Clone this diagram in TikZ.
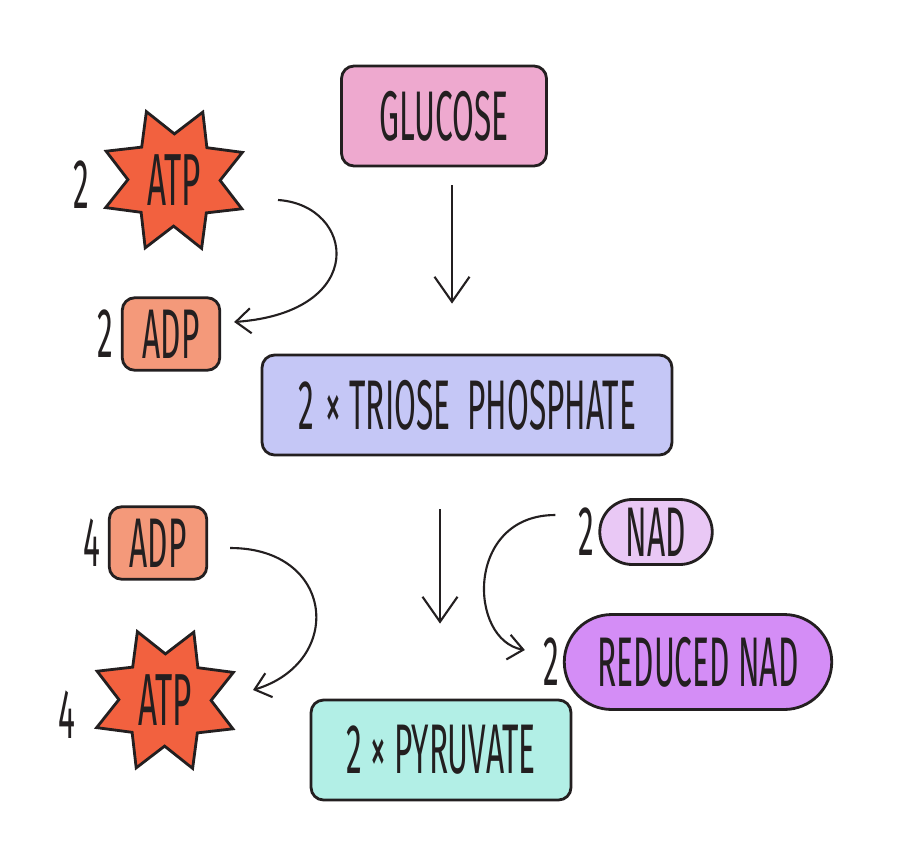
\documentclass[tikz,border=0pt]{standalone}
\usepackage{fontspec}
\setmainfont{Fira Sans}[FakeStretch=0.45]
\usetikzlibrary{arrows.meta, positioning, calc, shapes.geometric}
\definecolor{ink}{HTML}{231F20}
\definecolor{glucosefill}{HTML}{EEA9CF}
\definecolor{triosefill}{HTML}{C5C7F6}
\definecolor{pyruvatefill}{HTML}{B2EFE6}
\definecolor{atpfill}{HTML}{F2613F}
\definecolor{adpfill}{HTML}{F4997A}
\definecolor{nadfill}{HTML}{E9C8F5}
\definecolor{rnadfill}{HTML}{D48DF6}

\begin{document}
\begin{tikzpicture}[
    x=0.02cm, y=-0.02cm,
    every node/.style={text=ink, font=\fontsize{40}{44}\selectfont},
    molbox/.style={
      rectangle, rounded corners=0.25cm, draw=ink, line width=1.6pt,
      inner sep=0pt
    },
    sugar/.style={molbox, minimum height=2.0cm},
    adpbox/.style={molbox, fill=adpfill, minimum width=1.95cm, minimum height=1.45cm},
    atpstar/.style={
      star, star points=8, star point ratio=1.6, draw=ink, line width=1.6pt,
      fill=atpfill, minimum size=2.95cm, inner sep=0pt, shape border rotate=22
    },
    nadpill/.style={
      rectangle, draw=ink, line width=1.6pt, inner sep=0pt
    },
    num/.style={inner sep=1pt},
    mainarrow/.style={
      -{Straight Barb[length=5mm, width=7mm]}, line width=1.2pt, draw=ink
    },
    sidearrow/.style={
      -{Straight Barb[length=3mm, width=5mm]}, line width=1.2pt, draw=ink
    }
  ]

  \useasboundingbox (0,0) rectangle (908,848);

  % Main chain
  \node[sugar, fill=glucosefill, minimum width=4.1cm]  (glucose)  at (444,116) {GLUCOSE};
  \node[sugar, fill=triosefill, minimum width=8.2cm]   (triose)   at (467,405) {2\,× TRIOSE\ \ PHOSPHATE};
  \node[sugar, fill=pyruvatefill, minimum width=5.2cm] (pyruvate) at (441,750) {2 × PYRUVATE};

  \draw[mainarrow] ($(glucose.south)+(8,18)$) -- ($(triose.north)+(-15,-50)$);
  \draw[mainarrow] ($(triose.south)+(-27,53)$) -- ($(pyruvate.north)+(-1,-75)$);

  % ATP used
  \node[atpstar] (atp1) at (174,180) {\fontsize{42}{46}\selectfont ATP};
  \node[adpbox]  (adp1) at (171,334) {ADP};
  \node[num] at ($(atp1)+(-93,5)$) {2};
  \node[num, left=3pt of adp1] {2};
  \draw[sidearrow] ($(atp1)+(104,20)$)
    .. controls (355,205) and (370,312) .. ($(adp1.east)+(13,-12)$);

  % ATP made
  \node[adpbox]  (adp2) at (158,543) {ADP};
  \node[atpstar] (atp2) at (165,700) {\fontsize{42}{46}\selectfont ATP};
  \node[num, left=3pt of adp2] {4};
  \node[num] at ($(atp2)+(-98,15)$) {4};
  \draw[sidearrow] ($(adp2.east)+(22,5)$)
    .. controls (335,548) and (345,662) .. ($(atp2)+(88,-10)$);

  % NAD
  \node[nadpill, fill=nadfill, minimum width=2.25cm, minimum height=1.3cm, rounded corners=0.65cm] (nad) at (656,532) {NAD};
  \node[nadpill, fill=rnadfill, minimum width=5.35cm, minimum height=1.9cm, rounded corners=0.95cm] (rnad) at (698,662) {REDUCED NAD};
  \node[num, left=1pt of nad]  {2};
  \node[num, left=1pt of rnad] {2};
  \draw[sidearrow] ($(nad.west)+(-43,-17)$)
    .. controls (465,515) and (468,640) .. ($(rnad.west)+(-38,-12)$);

\end{tikzpicture}
\end{document}
